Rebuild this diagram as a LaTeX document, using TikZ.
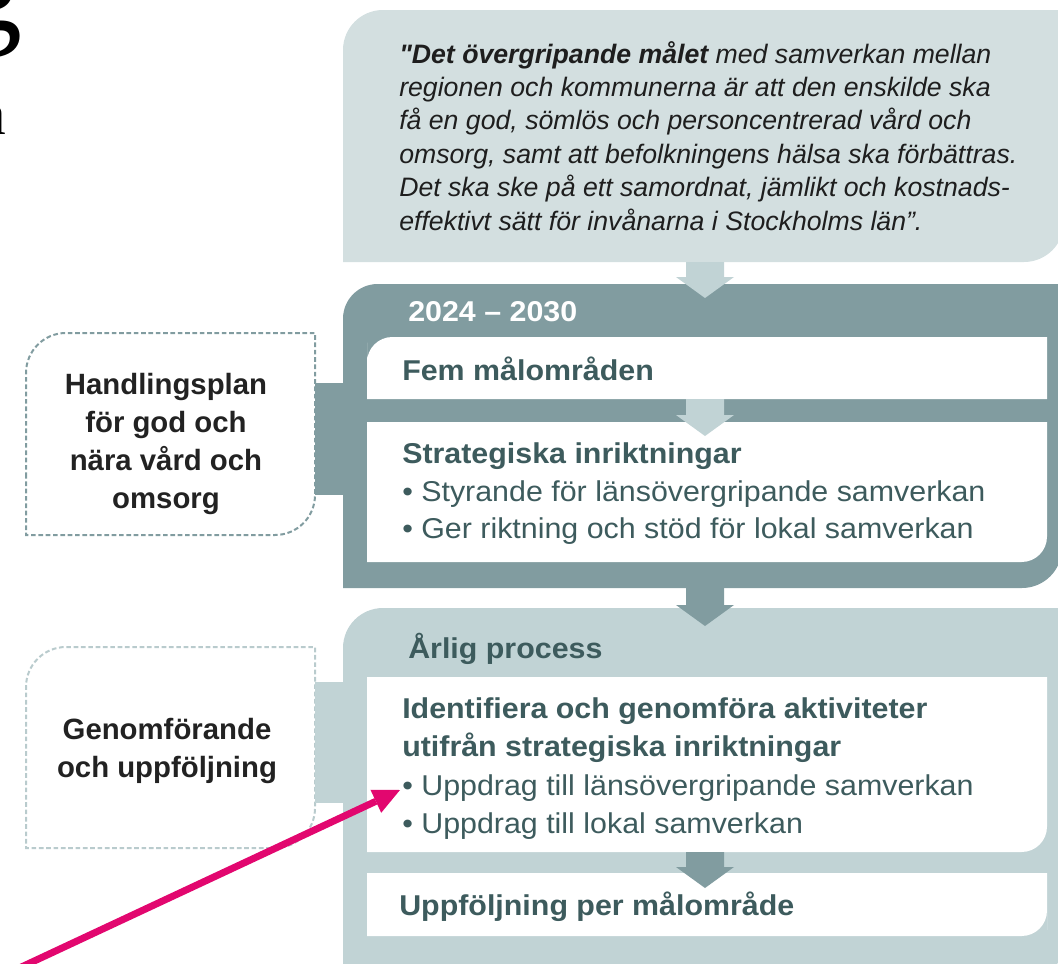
\documentclass[tikz,border=0pt]{standalone}
\usepackage{fontspec}
\setmainfont{Liberation Sans}
\newfontfamily\panelfont[FakeStretch=1.06]{Liberation Sans}
\newfontfamily\straightquote[Ligatures=TeXOff]{Liberation Sans}
\newfontfamily\titlefont{Liberation Serif}
\usetikzlibrary{calc}
\usetikzlibrary{arrows.meta}

\definecolor{goalbg}{HTML}{D3DFE0}
\definecolor{periodbg}{HTML}{819CA0}
\definecolor{annualbg}{HTML}{C1D3D5}
\definecolor{tealtext}{HTML}{3D5B5D}
\definecolor{sidetextcol}{HTML}{222222}
\definecolor{quotetextcol}{HTML}{1E1E1E}
\definecolor{execdash}{HTML}{B9CBCD}
\definecolor{pointer}{HTML}{E2076F}

% box with rounded top-left and bottom-right corners: style, x1, y1, x2, y2, r top-left, r bottom-right
\newcommand{\cornerbox}[7]{%
  \path[#1] (#2,{(#3+#5)/2}) -- (#2,#5) -- ({(#2+#4)/2},#5) [rounded corners=#7] -- (#4,#5) -- (#4,{(#3+#5)/2})
    [sharp corners] -- (#4,#3) -- ({(#2+#4)/2},#3) [rounded corners=#6] -- (#2,#3) -- cycle;}
% wide down arrow from one point to a tip
\newcommand{\blockarrow}[3]{%
  \fill[#1] ($(#2)+(-19,0)$) -- ($(#2)+(19,0)$) -- ($(#3)+(19,-21)$) -- ($(#3)+(29,-21)$) -- (#3)
    -- ($(#3)+(-29,-21)$) -- ($(#3)+(-19,-21)$) -- cycle;}

\begin{document}
\begin{tikzpicture}[x=0.75pt,y=-0.75pt]
\tikzset{titlechar/.style={anchor=base east, inner sep=0pt}}
\tikzset{quotetext/.style={anchor=base west, inner sep=0pt, align=left, text=quotetextcol, font=\itshape\fontsize{20}{25.05}\selectfont}}
\tikzset{paneltext/.style={anchor=base west, inner sep=0pt, text=tealtext, font=\panelfont\fontsize{21.5}{26}\selectfont}}
\tikzset{panelhead/.style={paneltext, font=\panelfont\bfseries\fontsize{21.5}{26}\selectfont}}
\tikzset{sidetext/.style={anchor=base, inner sep=0pt, align=center, text=sidetextcol, font=\bfseries\fontsize{22}{28.5}\selectfont}}
\tikzset{sidebox/.style={draw=#1, line width=1.5pt, dash pattern=on 3.5pt off 2pt}}
\tikzset{pointerline/.style={draw=pointer, line width=5.25pt, -{Triangle[length=20pt, width=19pt, line width=0pt]}}}
\useasboundingbox (0,0) rectangle (1058,964);

% cut-off letters of the page title
\node[titlechar, font=\titlefont\fontsize{96}{96}\selectfont] (titleg) at (23,30) {g};
\node[titlechar, font=\titlefont\fontsize{45}{45}\selectfont] (titlea) at (6,134) {a};

% panels
\cornerbox{fill=goalbg}{343}{10}{1064}{262}{30pt}{30pt}
\cornerbox{fill=periodbg}{343}{284}{1062}{588}{26pt}{30pt}
\cornerbox{fill=white}{367}{337}{1047}{399}{19pt}{0.01pt}
\cornerbox{fill=white}{367}{422}{1047}{562}{0.01pt}{19pt}
\cornerbox{fill=annualbg}{343}{608}{1062}{985}{30pt}{30pt}
\cornerbox{fill=white}{367}{677}{1047}{852}{0.01pt}{19pt}
\cornerbox{fill=white}{367}{873}{1047}{936}{0.01pt}{19pt}

% side boxes and their links
\cornerbox{sidebox=periodbg}{26}{333}{315}{535}{30pt}{30pt}
\cornerbox{sidebox=execdash}{26}{647}{315}{848}{30pt}{30pt}
\fill[periodbg] (315,383) rectangle (343,495);
\fill[annualbg] (315,682) rectangle (343,803);

% arrow ends
\coordinate (goal-out) at (705,262);
\coordinate (period-in) at (705,298);
\coordinate (areas-out) at (705,399);
\coordinate (strategies-in) at (705,436);
\coordinate (period-out) at (705,588);
\coordinate (annual-in) at (705,626);
\coordinate (activities-out) at (705,852);
\coordinate (review-in) at (705,888);

\blockarrow{annualbg}{goal-out}{period-in}
\blockarrow{annualbg}{areas-out}{strategies-in}
\blockarrow{periodbg}{period-out}{annual-in}
\blockarrow{periodbg}{activities-out}{review-in}

% texts (multi-line nodes sit on their last baseline)
\node[quotetext] (goal) at (399,230) {\textbf{{\straightquote"}Det övergripande målet} med samverkan mellan\\regionen och kommunerna är att den enskilde ska\\få en god, sömlös och personcentrerad vård och\\omsorg, samt att befolkningens hälsa ska förbättras.\\Det ska ske på ett samordnat, jämlikt och kostnads-\\effektivt sätt för invånarna i Stockholms län”.};
\node[panelhead, text=white] (years) at (408,321) {2024 – 2030};
\node[panelhead] (areas) at (402,380) {Fem målområden};
\node[panelhead] (strategies) at (402,463) {Strategiska inriktningar};
\node[paneltext] (steer) at (402,501) {• Styrande för länsövergripande samverkan};
\node[paneltext] (support) at (402,538) {• Ger riktning och stöd för lokal samverkan};
\node[panelhead] (annual) at (408,658) {Årlig process};
\node[panelhead] (activities) at (402,718) {Identifiera och genomföra aktiviteter};
\node[panelhead] (activities2) at (402,756) {utifrån strategiska inriktningar};
\node[paneltext] (county) at (402,795) {• Uppdrag till länsövergripande samverkan};
\node[paneltext] (local) at (402,833) {• Uppdrag till lokal samverkan};
\node[panelhead] (review) at (399,915) {Uppföljning per målområde};
\node[sidetext] (plan) at (166,508) {Handlingsplan\\för god och\\nära vård och\\omsorg};
\node[sidetext] (exec) at (167,777) {Genomförande\\och uppföljning};

% pointer
\coordinate (pointer-start) at (15,970);
\coordinate (pointer-tip) at (400,790);
\draw[pointerline] (pointer-start) -- (pointer-tip);
\end{tikzpicture}
\end{document}
